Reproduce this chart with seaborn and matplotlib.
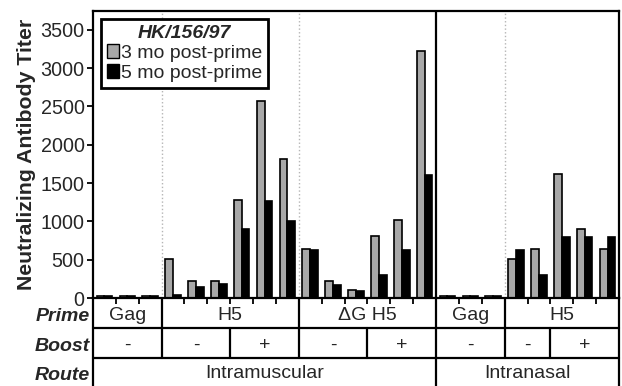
import matplotlib
matplotlib.use("Agg")
import matplotlib.pyplot as plt
import pandas as pd
import seaborn as sns

# ---------------- data ----------------
slots = list(range(23))
titer_3mo = [20, 20, 20, 510, 220, 220, 1285, 2565, 1820, 640, 220, 105, 805, 1015, 3230,
             20, 20, 20, 510, 640, 1620, 905, 640]
titer_5mo = [20, 20, 20, 45, 140, 185, 895, 1265, 1000, 625, 175, 90, 300, 625, 1600,
             20, 20, 20, 625, 300, 795, 795, 795]
series = ["3 mo post-prime", "5 mo post-prime"]
legend_title = "HK/156/97"
prime_groups = [("Gag", 0, 3), ("H5", 3, 9), ("\u0394G H5", 9, 15), ("Gag", 15, 18), ("H5", 18, 23)]
boost_groups = [("-", 0, 3), ("-", 3, 6), ("+", 6, 9), ("-", 9, 12), ("+", 12, 15),
                ("-", 15, 18), ("-", 18, 20), ("+", 20, 23)]
route_groups = [("Intramuscular", 0, 15), ("Intranasal", 15, 23)]
row_labels = ["Prime", "Boost", "Route"]
yticks = [0, 500, 1000, 1500, 2000, 2500, 3000, 3500]
ylabel = "Neutralizing Antibody Titer"

df = pd.DataFrame({
    "slot": slots * 2,
    "titer": titer_3mo + titer_5mo,
    "period": [series[0]] * len(slots) + [series[1]] * len(slots),
})

# ---------------- style ----------------
sns.set_style("white")
plt.rcParams["font.family"] = ["Liberation Sans", "DejaVu Sans"]
FS = 14

W, H = 622, 386
fig = plt.figure(figsize=(W / 100, H / 100), dpi=100)
left_px, right_px, top_px, bottom_px = 93, 619, 10.7, 298
ax_t = fig.add_axes([left_px / W, 0, (right_px - left_px) / W, (H - bottom_px) / H])
ax = fig.add_axes([left_px / W, 1 - bottom_px / H, (right_px - left_px) / W, (bottom_px - top_px) / H])

sns.barplot(data=df, x="slot", y="titer", hue="period", ax=ax,
            palette={series[0]: "#a8a8a8", series[1]: "#000000"},
            edgecolor="black", linewidth=1.2, width=0.68, dodge=True, saturation=1)

ax.set_xlim(-0.5, len(slots) - 0.5)
ax.set_ylim(0, 3750)
ax.set_yticks(yticks)
ax.set_yticklabels([str(v) for v in yticks], fontsize=14.2)
bounds = [i + 0.5 for i in range(len(slots) - 1)]
ax.set_xticks(bounds)
ax.set_xticklabels([""] * len(bounds))
ax.tick_params(axis="x", direction="out", length=4, width=1.3, color="black", bottom=True)
ax.tick_params(axis="y", direction="out", length=4, width=1.3, color="black", left=True, pad=2)
ax.set_xlabel("")
ax.set_ylabel(ylabel, fontsize=15.3, fontweight="bold", labelpad=3)
for s in ax.spines.values():
    s.set_visible(True)
    s.set_color("black")
    s.set_linewidth(1.6)

# separators inside the plot
for g in prime_groups[1:]:
    b = g[1] - 0.5
    if b == route_groups[1][1] - 0.5:
        continue
    ax.axvline(b, color="#b5b5b5", linestyle=":", linewidth=1.0, zorder=0)
ax.axvline(route_groups[1][1] - 0.5, color="black", linewidth=1.6, zorder=3)

# legend
handles, labels = ax.get_legend_handles_labels()
leg = ax.legend(handles, labels, title=legend_title, loc="upper left",
                bbox_to_anchor=(0.015, 0.972), borderaxespad=0, fancybox=False,
                fontsize=FS, handlelength=0.62, handleheight=0.75, handletextpad=0.12,
                labelspacing=0.12, borderpad=0.3, framealpha=1)
leg.get_title().set_fontweight("bold")
leg.get_title().set_fontstyle("italic")
leg.get_title().set_fontsize(FS)
leg.get_frame().set_edgecolor("black")
leg.get_frame().set_linewidth(2.0)
for p in leg.get_patches():
    p.set_edgecolor("black")
    p.set_linewidth(1.0)

# ---------------- table below ----------------
ax_t.set_xlim(-0.5, len(slots) - 0.5)
ax_t.set_ylim(H - bottom_px, 0)
ax_t.set_xticks([])
ax_t.set_yticks([])
ax_t.patch.set_visible(False)
for k in ["top", "bottom"]:
    ax_t.spines[k].set_visible(False)
for k in ["left", "right"]:
    ax_t.spines[k].set_color("black")
    ax_t.spines[k].set_linewidth(1.6)

rows = [(0, 30, prime_groups), (30, 60, boost_groups), (60, H - bottom_px, route_groups)]
lw_t = 1.6
for (y0, y1, groups), rl in zip(rows, row_labels):
    if y0 > 0:
        ax_t.plot([-0.5, len(slots) - 0.5], [y0, y0], color="black", lw=lw_t, clip_on=False)
    for name, a, b in groups:
        if a > 0:
            ax_t.plot([a - 0.5, a - 0.5], [y0, y1], color="black", lw=lw_t, clip_on=False)
        ax_t.text((a + b - 1) / 2, (y0 + y1) / 2 + 2, name, ha="center", va="center", fontsize=FS)
    ax_t.annotate(rl, xy=(0, (y0 + y1) / 2 + 3.5), xycoords=("axes fraction", "data"),
                  xytext=(-3, 0), textcoords="offset pixels", ha="right", va="center",
                  fontsize=FS, fontweight="bold", fontstyle="italic", annotation_clip=False)

fig.savefig("out.png", dpi=100)
